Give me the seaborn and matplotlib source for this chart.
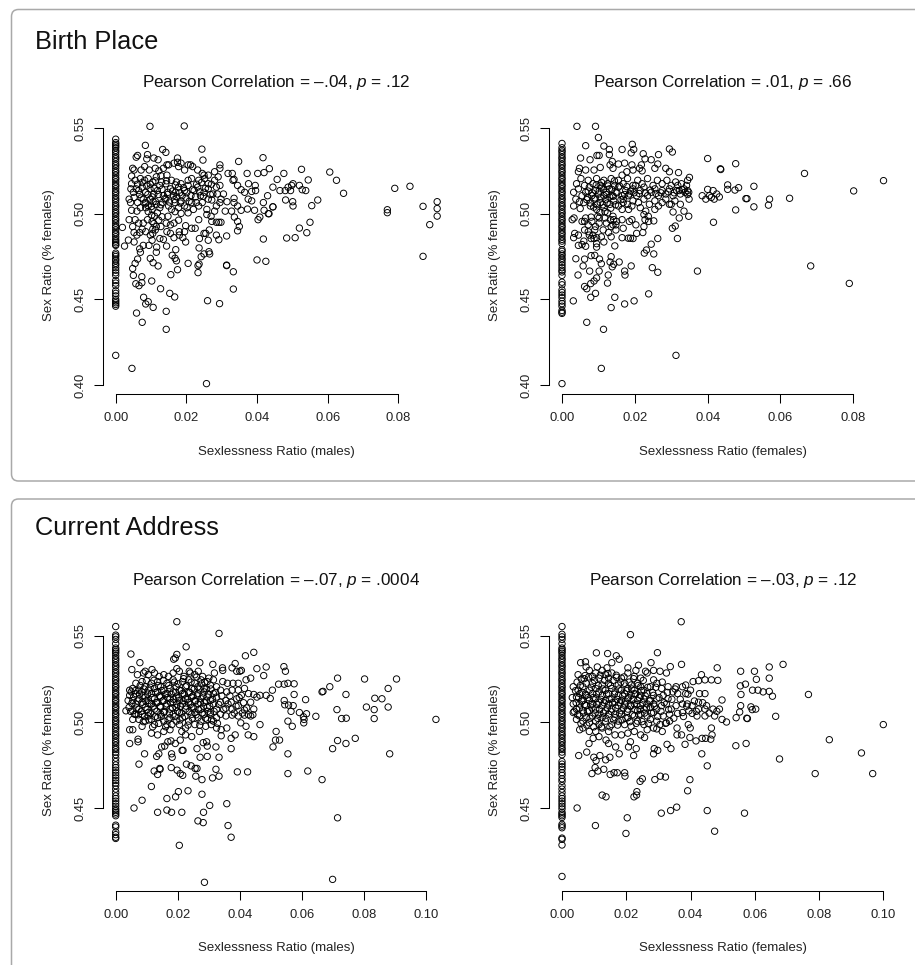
import matplotlib
matplotlib.use('Agg')
import pandas as pd
import seaborn as sns
import matplotlib.pyplot as plt
from matplotlib.patches import FancyBboxPatch

# setup
sns.set_theme(style='ticks')
plt.rcParams['font.family'] = ['Liberation Sans', 'DejaVu Sans']
plt.rcParams['mathtext.fontset'] = 'custom'
plt.rcParams['mathtext.it'] = 'Liberation Sans:italic'
plt.rcParams['mathtext.rm'] = 'Liberation Sans'

# sex ratio of the places with a sexlessness ratio of exactly zero
birth_m_zero = [.5435, .5415, .5405, .5395, .5385, .537, .536, .5345, .533, .532, .5305, .529, .528, .5265, .525,
                .524, .5225, .521, .52, .5185, .517, .516, .5145, .513, .512, .5105, .509, .508, .5065, .505,
                .504, .5025, .501, .5, .4985, .497, .496, .4945, .493, .492, .4905, .489, .488, .4865, .485,
                .484, .483, .482, .4815, .477, .476, .475, .4735, .4725, .471, .47, .4685, .467, .4655, .464,
                .461, .4595, .458, .455, .4535, .452, .45, .449, .448, .447, .446, .4173]
birth_f_zero = [.541, .5385, .537, .536, .5345, .533, .532, .5305, .529, .528, .5265, .525, .524, .5225, .521,
                .52, .5185, .517, .516, .5145, .513, .512, .5105, .509, .508, .5065, .505, .504, .5025, .501,
                .5, .4985, .497, .496, .4945, .493, .492, .4905, .489, .488, .4865, .485, .484, .4825, .479,
                .478, .4765, .4755, .474, .473, .4715, .47, .4685, .467, .466, .464, .46, .4585, .4555, .454,
                .4525, .451, .449, .4475, .446, .4435, .4425, .4418, .4008]
current_m_zero = [.5555, .5505, .5495, .548, .5455, .543, .542, .541, .54, .5385, .537, .536, .5345, .533, .532,
                  .5305, .529, .528, .5265, .525, .524, .5225, .521, .52, .5185, .517, .516, .5145, .513, .512,
                  .5105, .509, .508, .5065, .505, .504, .5025, .501, .5, .4985, .497, .496, .4945, .493, .492,
                  .4905, .489, .488, .4865, .485, .484, .4825, .481, .479, .477, .475, .4735, .472, .4705, .469,
                  .4675, .466, .4645, .463, .461, .459, .457, .4555, .454, .4525, .451, .4495, .4485, .4475,
                  .4465, .4455, .44, .439, .436, .4345, .433, .4323]
current_f_zero = [.5555, .551, .5495, .548, .5455, .543, .542, .541, .54, .5385, .537, .536, .5345, .533, .532,
                  .5305, .529, .528, .5265, .525, .524, .5225, .521, .52, .5185, .517, .516, .5145, .513, .512,
                  .5105, .509, .508, .5065, .505, .504, .5025, .501, .5, .4985, .497, .496, .4945, .493, .492,
                  .4905, .489, .488, .4865, .485, .484, .4825, .481, .477, .4755, .474, .4725, .4705, .469, .467,
                  .4655, .463, .461, .459, .457, .4555, .454, .4525, .451, .4495, .4475, .4465, .4455, .4445,
                  .4405, .4395, .4385, .4325, .4318, .4285, .4102]

# (sexlessness ratio, sex ratio) for the other places
birth_m_pts = [(.0097, .551), (.0194, .5512), (.0084, .5399), (.0133, .5375), (.0142, .5358), (.0244, .5377),
    (.0247, .5313), (.0417, .5327), (.0348, .5305), (.0435, .5263), (.0526, .5259), (.0606, .5243), (.0625, .5195),
    (.0645, .5119), (.079, .5148), (.0833, .516), (.0769, .5023), (.0769, .5006), (.087, .5043), (.091, .507),
    (.091, .503), (.091, .4986), (.0889, .4936), (.087, .4751), (.0545, .5197), (.0572, .508), (.0555, .5047),
    (.055, .495), (.052, .4916), (.0541, .4889), (.0508, .486), (.0484, .4858), (.0418, .4852), (.04, .473),
    (.0425, .4722), (.0333, .456), (.0314, .47), (.0314, .4697), (.0333, .4661), (.0294, .4475), (.026, .4492),
    (.0257, .4008), (.0046, .4097), (.0143, .4325), (.0075, .4366), (.0059, .442), (.0143, .443), (.0106, .4453),
    (.0092, .4486), (.0085, .4473), (.0079, .4512), (.0167, .4514), (.0153, .4535), (.0127, .4562), (.0102, .4607),
    (.0057, .4591), (.0066, .458), (.0074, .4597), (.0074, .4632), (.005, .464), (.0156, .4644), (.0175, .4673),
    (.012, .4695), (.0106, .4714), (.0098, .4739), (.0205, .471), (.0233, .4656), (.0233, .4697), (.0236, .4706),
    (.0242, .4749), (.025, .4765), (.0264, .4778), (.0266, .4765), (.0236, .48), (.017, .479), (.016, .4757),
    (.0168, .474), (.0172, .4725), (.0144, .4811), (.0025, .4811), (.0019, .492), (.0036, .4846), (.0055, .471),
    (.0048, .468), (.0062, .4735), (.007, .4775), (.0052, .4835), (.0068, .4795), (.0078, .4815), (.0094, .4815),
    (.0115, .4775), (.0116, .4805), (.0103, .4845), (.0125, .4855), (.0135, .485), (.0145, .4895), (.0155, .4885),
    (.0165, .486), (.018, .4875), (.019, .486), (.0198, .4835), (.0237, .4855), (.0262, .4845), (.0292, .4848),
    (.0285, .4875), (.0314, .487), (.0345, .49), (.035, .4925), (.0345, .4955), (.0336, .498), (.0373, .5027),
    (.0393, .502), (.0403, .4965), (.0408, .498), (.0432, .5), (.0434, .5), (.0445, .504), (.0418, .5065),
    (.043, .5105), (.0396, .5135), (.0375, .5085), (.0385, .5075), (.0365, .5125), (.0355, .514), (.0385, .513),
    (.0345, .5165), (.0335, .52), (.0318, .5235), (.033, .5235), (.0332, .5195), (.0372, .5235), (.0376, .5175),
    (.0395, .5165), (.0402, .5235), (.042, .524), (.0457, .52), (.0476, .5235), (.0445, .5155), (.0465, .5135),
    (.048, .5135), (.0495, .5135), (.0488, .5155), (.0498, .5165), (.052, .5165), (.0528, .514), (.0538, .5135),
    (.0502, .5175), (.0481, .508), (.0501, .507), (.0502, .5045), (.0445, .504), (.042, .502), (.0345, .5045),
    (.0355, .502), (.0328, .5015), (.031, .5015), (.0295, .5065), (.0315, .507), (.0335, .509), (.0335, .5065),
    (.0285, .5045), (.028, .5015), (.027, .4985), (.0258, .4995), (.0272, .4955), (.0285, .495), (.0292, .495),
    (.0298, .495), (.0265, .4905), (.0255, .4885), (.025, .4885), (.0235, .4965), (.0225, .4915), (.0215, .4915),
    (.0198, .493), (.0195, .4895), (.018, .4895), (.0165, .4945), (.0155, .4935), (.0143, .4945), (.0128, .4925),
    (.0105, .491), (.0115, .4925), (.0098, .4875), (.0085, .4895), (.0075, .491), (.0068, .489), (.006, .4875),
    (.0052, .489), (.0048, .4925), (.0038, .4965), (.0055, .4965), (.0065, .4945), (.0078, .4945), (.009, .4965),
    (.0103, .4955), (.011, .4985), (.0118, .5005), (.0103, .5025), (.0085, .5035), (.007, .5035), (.006, .5015),
    (.0045, .502), (.0038, .5085), (.0042, .5065), (.0052, .5095), (.0062, .5065), (.0078, .5085), (.0085, .5065),
    (.0092, .5045), (.0098, .5085), (.0106, .507), (.0115, .5055), (.0125, .5035), (.0132, .5065), (.0142, .5085),
    (.015, .5045), (.0158, .5025), (.0168, .5065), (.0178, .5035), (.0185, .5075), (.0195, .5045), (.0205, .5005),
    (.0215, .5065), (.022, .5025), (.0235, .5045), (.0245, .5065), (.0258, .5025), (.0262, .5085), (.0272, .508),
    (.0288, .5115), (.0298, .5085), (.0305, .5115), (.0043, .5145), (.005, .5125), (.0065, .5135), (.0075, .5155),
    (.0085, .5125), (.0097, .5145), (.0108, .5115), (.0118, .5135), (.0125, .5165), (.0135, .5105), (.0148, .5125),
    (.0155, .5145), (.0163, .5105), (.017, .5125), (.0178, .5155), (.0188, .5105), (.0195, .5135), (.0205, .5165),
    (.0213, .5105), (.0222, .5135), (.0232, .5155), (.024, .5105), (.025, .5125), (.0262, .5145), (.0275, .5115),
    (.0285, .5155), (.0295, .5165), (.0045, .5175), (.0055, .5195), (.007, .5205), (.0082, .5195), (.0092, .5205),
    (.0105, .5185), (.0115, .5215), (.013, .5185), (.0142, .5175), (.0158, .5195), (.0172, .5185), (.0185, .5175),
    (.0205, .5195), (.0215, .5205), (.0235, .5195), (.0252, .5205), (.0262, .5175), (.028, .5195), (.029, .5215),
    (.0045, .522), (.0048, .5265), (.0052, .5255), (.0072, .5255), (.0082, .5275), (.0095, .5255), (.0112, .5265),
    (.0122, .525), (.0145, .5225), (.015, .5285), (.0165, .5295), (.0178, .5275), (.0175, .5325), (.0185, .5295),
    (.0195, .5255), (.0212, .5285), (.0218, .5275), (.0232, .5255), (.0245, .5235), (.025, .5225), (.0262, .5225),
    (.028, .5245), (.0295, .5265), (.0295, .5285), (.0058, .533), (.0062, .534), (.009, .5345), (.0088, .532),
    (.0108, .5325), (.012, .5315), (.0145, .5285), (.0135, .5265), (.0205, .5285), (.0175, .53)]
birth_f_pts = [(.0041, .551), (.0092, .551), (.01, .5445), (.0065, .5397), (.0115, .5395), (.013, .5375), (.0165, .5375),
    (.0193, .5405), (.019, .5355), (.0197, .5375), (.0223, .535), (.0265, .5345), (.0295, .5378), (.0303, .536),
    (.0051, .5325), (.0077, .5315), (.0096, .534), (.0102, .534), (.013, .5345), (.0138, .5305), (.0132, .5285),
    (.0245, .5315), (.0263, .529), (.0155, .529), (.0172, .5295), (.0192, .5285), (.0218, .5285), (.0228, .532),
    (.0285, .5265), (.0255, .5265), (.0295, .5245), (.032, .524), (.0048, .5265), (.0045, .5245), (.0065, .5255),
    (.0088, .5255), (.0105, .527), (.014, .5265), (.0165, .5225), (.0178, .5245), (.0195, .5255), (.0213, .5265),
    (.022, .525), (.04, .5322), (.0435, .5262), (.0436, .5258), (.0477, .5292), (.0666, .5235), (.0883, .5193),
    (.0801, .5133), (.035, .5212), (.0345, .5195), (.0342, .5165), (.0345, .5135), (.033, .514), (.0318, .5165),
    (.0349, .5085), (.0325, .5055), (.0335, .5015), (.0348, .4985), (.0322, .4975), (.0305, .501), (.03, .5055),
    (.0311, .4928), (.0303, .4915), (.0317, .4855), (.0395, .5085), (.0385, .5105), (.04, .5142), (.0405, .5105),
    (.041, .5095), (.0415, .5135), (.0418, .5085), (.0425, .5115), (.0432, .5098), (.0455, .5168), (.0455, .5142),
    (.0475, .5138), (.0485, .5152), (.0527, .516), (.0505, .5088), (.0508, .5088), (.057, .5085), (.0567, .505),
    (.0527, .504), (.0477, .5022), (.0625, .509), (.0416, .495), (.0372, .4665), (.0683, .4695), (.0789, .4593),
    (.0313, .4173), (.0108, .4097), (.0114, .4325), (.0068, .4366), (.0135, .4452), (.0172, .4473), (.0198, .4491),
    (.0238, .4532), (.0145, .4512), (.0031, .4491), (.0079, .4512), (.0092, .4535), (.0062, .4575), (.0068, .4562),
    (.0079, .4592), (.0088, .4607), (.0095, .4625), (.0125, .4595), (.0127, .4642), (.0102, .4665), (.0076, .4665),
    (.0044, .4642), (.0058, .4695), (.0038, .4737), (.0062, .4735), (.008, .4755), (.009, .4757), (.0103, .4735),
    (.0108, .4708), (.0132, .4718), (.0135, .4749), (.0142, .4705), (.0138, .469), (.0157, .4718), (.0172, .4665),
    (.0173, .4642), (.019, .4695), (.0248, .4685), (.0263, .4658), (.0252, .4765), (.0226, .477), (.0232, .4788),
    (.0245, .4822), (.0263, .4855), (.0182, .4857), (.0188, .4857), (.0195, .4855), (.0205, .4885), (.0222, .489),
    (.0165, .486), (.0145, .4812), (.0115, .4835), (.0095, .4805), (.0095, .4825), (.0065, .481), (.0055, .482),
    (.0045, .4815), (.0032, .486), (.0035, .4885), (.0045, .4875), (.006, .484), (.008, .4855), (.0095, .486),
    (.0108, .4865), (.0135, .4865), (.0128, .489), (.0148, .4905), (.0168, .4915), (.0085, .4875), (.0072, .4895),
    (.0062, .4905), (.009, .4905), (.0113, .4905), (.014, .4935), (.015, .4955), (.0133, .4965), (.0165, .4965),
    (.0192, .4965), (.0203, .4935), (.0185, .4955), (.0225, .4925), (.0228, .4965), (.0238, .4955), (.0252, .4958),
    (.0225, .4995), (.023, .5015), (.0237, .4985), (.0255, .5025), (.0028, .4965), (.0033, .4975), (.0032, .5045),
    (.0038, .5085), (.005, .503), (.0055, .4955), (.0065, .4975), (.008, .498), (.0098, .4985), (.0102, .4945),
    (.0118, .4975), (.0125, .5005), (.014, .4985), (.0165, .5025), (.0183, .5025), (.0192, .5045), (.0215, .5035),
    (.0048, .507), (.006, .5065), (.007, .5095), (.0078, .5045), (.0088, .5085), (.0095, .5025), (.0105, .5065),
    (.0115, .5035), (.012, .5085), (.0132, .5055), (.0142, .5075), (.0155, .5045), (.0168, .5085), (.018, .5055),
    (.0195, .5075), (.021, .5065), (.0225, .5085), (.024, .5055), (.0255, .5075), (.0265, .5045), (.0275, .5065),
    (.0285, .5085), (.0295, .5055), (.031, .5075), (.0032, .5125), (.0045, .5145), (.0055, .5105), (.0065, .5125),
    (.0075, .5155), (.0082, .5105), (.0092, .5135), (.01, .5115), (.0108, .5155), (.0115, .5105), (.0122, .5125),
    (.013, .5145), (.0138, .5105), (.0148, .5125), (.0155, .5155), (.0165, .5105), (.0175, .5135), (.0185, .5115),
    (.0195, .5145), (.0205, .5105), (.0215, .5135), (.0225, .5155), (.0235, .5105), (.0245, .5125), (.0255, .5145),
    (.0265, .5105), (.0275, .5135), (.0285, .5115), (.0295, .5145), (.0305, .5105), (.0315, .5135), (.0325, .5115),
    (.0335, .5145), (.0348, .5125), (.004, .5175), (.0052, .5205), (.0062, .5165), (.0072, .5195), (.0085, .5175),
    (.0095, .5205), (.0105, .5165), (.0115, .5195), (.0125, .5175), (.0135, .5205), (.0145, .5165), (.0155, .5195),
    (.0168, .5175), (.018, .5205), (.0195, .5165), (.0208, .5195), (.022, .5175), (.0235, .5205), (.025, .5165),
    (.0262, .5195), (.0275, .5175), (.0288, .5195), (.03, .5165), (.0312, .5185), (.0328, .5175)]
current_m_pts = [(.0197, .5583), (.0333, .5515), (.0227, .5437), (.0049, .5395), (.0197, .5393), (.0192, .5372),
    (.0187, .5365), (.0418, .5385), (.0445, .5405), (.0078, .5345), (.0235, .5345), (.0271, .5345), (.0313, .5335),
    (.0344, .5315), (.0385, .534), (.0345, .53), (.0375, .5315), (.039, .5295), (.04, .5295), (.0405, .53),
    (.0455, .531), (.0485, .532), (.0542, .5322), (.0547, .5295), (.0477, .527), (.0318, .5285), (.0266, .5295),
    (.0237, .5295), (.0197, .531), (.0052, .5305), (.0095, .5295), (.0117, .5305), (.0715, .5255), (.0802, .525),
    (.0905, .525), (.0665, .5175), (.0668, .5178), (.069, .5205), (.0742, .516), (.0878, .5195), (.0835, .5138),
    (.0858, .5135), (.0878, .5087), (.0808, .5087), (.0833, .5072), (.0713, .5072), (.0728, .502), (.0743, .5022),
    (.0833, .502), (.1032, .5015), (.0612, .513), (.0575, .516), (.0575, .5222), (.0555, .5225), (.0543, .522),
    (.0525, .522), (.0505, .5185), (.0498, .5137), (.0485, .5155), (.0543, .5125), (.0545, .51), (.0557, .5098),
    (.0572, .5095), (.0565, .5062), (.0592, .5055), (.0615, .5048), (.0605, .503), (.0607, .5015), (.0606, .4995),
    (.0645, .5033), (.0555, .5005), (.0569, .4975), (.0465, .4985), (.0517, .4945), (.0515, .4895), (.0528, .4895),
    (.0507, .4855), (.0555, .4815), (.0555, .47), (.0619, .4715), (.0665, .4665), (.0699, .4845), (.0715, .4892),
    (.0742, .4875), (.0772, .4905), (.0883, .4815), (.0715, .4443), (.0699, .4085), (.0286, .4068), (.0205, .4283),
    (.0372, .433), (.0362, .4398), (.0282, .4415), (.0265, .4425), (.0283, .4475), (.0213, .4475), (.018, .4475),
    (.0165, .4488), (.0135, .4475), (.0059, .45), (.0085, .4545), (.0165, .4555), (.0193, .4565), (.0202, .4595),
    (.0233, .46), (.0278, .458), (.0303, .4515), (.0358, .4525), (.0115, .4625), (.0278, .4665), (.0312, .4675),
    (.0333, .4685), (.0323, .4725), (.0392, .471), (.0425, .471), (.0135, .4695), (.0142, .473), (.0124, .4715),
    (.0143, .4725), (.0179, .4735), (.0198, .472), (.0208, .47), (.0216, .469), (.0228, .4755), (.0243, .4745),
    (.0256, .473), (.0262, .473), (.0258, .4685), (.0075, .4755), (.0093, .4815), (.0132, .48), (.0139, .4815),
    (.0182, .4795), (.018, .4815), (.0214, .4835), (.0217, .4835), (.0262, .4845), (.0272, .4795), (.0295, .48),
    (.0333, .4795), (.0323, .4855), (.0372, .4845), (.0045, .4875), (.0072, .49), (.0072, .4885), (.0148, .4855),
    (.0158, .486), (.0168, .4885), (.0178, .489), (.0192, .4875), (.0208, .4895), (.0282, .488), (.0293, .4885),
    (.0295, .486), (.034, .492), (.0372, .4905), (.0385, .4925), (.0427, .4925), (.0445, .4915), (.0045, .4955),
    (.0055, .4955), (.0085, .4975), (.0115, .4935), (.0135, .4925), (.0155, .4945), (.0175, .4955), (.0213, .4945),
    (.0225, .4925), (.0245, .4915), (.027, .4945), (.029, .4975), (.0308, .4985), (.0325, .4965), (.034, .4955),
    (.0358, .4965), (.0403, .4995), (.042, .4975), (.0033, .5065), (.004, .5125), (.0045, .5185), (.005, .5175),
    (.0055, .5015), (.0065, .5045), (.0075, .5015), (.0085, .5045), (.0095, .5005), (.0105, .5035), (.0115, .5015),
    (.0125, .4985), (.0135, .5025), (.0145, .5045), (.0155, .5005), (.0165, .4985), (.0175, .5025), (.0185, .5045),
    (.0195, .5005), (.0205, .4985), (.0215, .5025), (.0225, .4965), (.0235, .5005), (.0245, .5045), (.0255, .4985),
    (.0265, .5025), (.0275, .5005), (.0285, .5045), (.0295, .5015), (.0305, .5045), (.0315, .5005), (.0325, .5025),
    (.0338, .5045), (.0355, .5035), (.0375, .504), (.0395, .5035), (.0415, .504), (.0435, .5035), (.0355, .508),
    (.0375, .5075), (.0395, .5095), (.0415, .507), (.0435, .5115), (.0445, .5075), (.0455, .5145), (.0043, .5085),
    (.0055, .5065), (.0065, .5105), (.0075, .5075), (.0085, .5115), (.0095, .5085), (.0105, .5055), (.0115, .5105),
    (.0125, .5075), (.0135, .5115), (.0145, .5085), (.0155, .5055), (.0165, .5105), (.0175, .5075), (.0185, .5115),
    (.0195, .5085), (.0205, .5055), (.0215, .5105), (.0225, .5075), (.0235, .5115), (.0245, .5085), (.0255, .5055),
    (.0265, .5105), (.0275, .5075), (.0285, .5115), (.0295, .5085), (.0305, .5055), (.0315, .5105), (.0325, .5075),
    (.0338, .5115), (.0355, .5125), (.0372, .5115), (.039, .5135), (.0405, .5155), (.0428, .5165), (.0445, .516),
    (.0465, .5155), (.0045, .5155), (.0055, .5125), (.0065, .5165), (.0075, .5135), (.0085, .5175), (.0095, .5145),
    (.0105, .5125), (.0115, .5165), (.0125, .5135), (.0135, .5175), (.0145, .5145), (.0155, .5125), (.0165, .5165),
    (.0175, .5135), (.0185, .5175), (.0195, .5145), (.0205, .5125), (.0215, .5165), (.0225, .5135), (.0235, .5175),
    (.0245, .5145), (.0255, .5125), (.0265, .5165), (.0275, .5135), (.0285, .5175), (.0295, .5145), (.0305, .5125),
    (.0315, .5165), (.0325, .5145), (.0338, .5185), (.0358, .5175), (.0375, .5185), (.0395, .5185), (.0415, .5195),
    (.0055, .5195), (.0065, .5225), (.0075, .5185), (.0085, .5235), (.0095, .5205), (.0105, .5185), (.0115, .5225),
    (.0125, .5195), (.0135, .5235), (.0145, .5205), (.0155, .5185), (.0165, .5225), (.0175, .5195), (.0185, .5245),
    (.0195, .5205), (.0205, .5185), (.0215, .5235), (.0225, .5205), (.0235, .5245), (.0245, .5195), (.0255, .5225),
    (.0265, .5205), (.0275, .5245), (.0285, .5195), (.0295, .5235), (.0305, .5215), (.0315, .5245), (.0325, .5205),
    (.0345, .5235), (.036, .5225), (.0378, .5225), (.0395, .5225), (.042, .5245), (.0435, .5255), (.007, .5275),
    (.009, .5285), (.0105, .5275), (.0125, .5285), (.014, .5265), (.0155, .5275), (.017, .5265), (.0185, .5285),
    (.0205, .5295), (.022, .5265), (.024, .5285), (.0255, .5275), (.028, .5265), (.03, .5255)]
current_f_pts = [(.0371, .5583), (.0213, .5508), (.0107, .5402), (.0297, .5403), (.0142, .5398), (.0169, .5385),
    (.0178, .5365), (.0277, .5345), (.0058, .5345), (.0073, .535), (.0155, .5345), (.0238, .533), (.0372, .5335),
    (.0337, .5322), (.0483, .5315), (.0556, .5295), (.0599, .5295), (.0645, .532), (.0688, .5335), (.0645, .5255),
    (.0605, .5248), (.0434, .5275), (.0445, .5245), (.0465, .5245), (.0485, .5242), (.0425, .524), (.0408, .5235),
    (.0571, .522), (.0555, .521), (.0593, .5185), (.061, .5185), (.0626, .5175), (.0645, .5178), (.0655, .515),
    (.0767, .516), (.0557, .516), (.0498, .5128), (.0556, .5095), (.0588, .5088), (.0592, .5072), (.0603, .5075),
    (.0553, .5058), (.0665, .5033), (.0577, .502), (.0575, .5022), (.0542, .5025), (.0512, .5), (.0498, .5015),
    (.1, .4985), (.0832, .4897), (.0932, .482), (.0967, .47), (.0788, .47), (.0677, .4785), (.0573, .4875),
    (.0541, .4862), (.0467, .4925), (.0465, .4965), (.0452, .4745), (.0435, .4815), (.0398, .4665), (.0391, .46),
    (.0452, .4485), (.0475, .4365), (.0568, .447), (.0357, .4505), (.0338, .4485), (.0309, .447), (.0203, .4443),
    (.0199, .4352), (.0104, .4398), (.0047, .45), (.0224, .4565), (.0232, .4575), (.0233, .4595), (.0137, .4565),
    (.0125, .4575), (.0243, .4655), (.025, .467), (.0289, .4665), (.0306, .4685), (.0322, .468), (.0172, .4705),
    (.0195, .4705), (.0196, .4685), (.0093, .47), (.0103, .4735), (.0112, .4715), (.013, .4725), (.015, .4695),
    (.0162, .4705), (.0106, .4775), (.0052, .4805), (.0077, .4825), (.0099, .4795), (.0118, .4805), (.0136, .478),
    (.0149, .4795), (.0178, .4815), (.0223, .4805), (.0285, .4815), (.0298, .4835), (.0287, .4845), (.0339, .4845),
    (.0327, .487), (.0383, .487), (.0417, .489), (.0398, .491), (.0436, .4905), (.0447, .4905), (.0463, .49),
    (.0084, .4875), (.0097, .4905), (.0115, .4915), (.0137, .4895), (.0145, .4875), (.0167, .4855), (.0207, .4855),
    (.0213, .4885), (.0231, .4845), (.0257, .491), (.0295, .496), (.0312, .4945), (.0358, .4925), (.0358, .4965),
    (.0372, .4925), (.0393, .4985), (.0399, .4965), (.0055, .4955), (.0065, .4965), (.0085, .4945), (.0105, .4945),
    (.0125, .4965), (.0145, .4945), (.0165, .4925), (.0185, .4925), (.0205, .4935), (.0225, .4945), (.0245, .4925),
    (.0265, .4955), (.0285, .4965), (.0305, .4985), (.0325, .4995), (.0335, .5005), (.0035, .5055), (.0045, .5015),
    (.0055, .5035), (.0065, .5005), (.0075, .5025), (.0085, .4995), (.0095, .5035), (.0105, .5005), (.0115, .4985),
    (.0125, .5025), (.0135, .5005), (.0145, .5045), (.0155, .4985), (.0165, .5025), (.0175, .5005), (.0185, .5045),
    (.0195, .4985), (.0205, .5025), (.0215, .4975), (.0225, .5035), (.0235, .5005), (.0245, .5045), (.0255, .4985),
    (.0265, .5035), (.0275, .5015), (.0285, .5055), (.0295, .5005), (.0315, .5035), (.0335, .5045), (.036, .505),
    (.0405, .505), (.042, .5035), (.0445, .5035), (.0475, .5035), (.049, .5075), (.047, .5075), (.045, .5095),
    (.0425, .5075), (.0395, .5065), (.0375, .5055), (.0035, .5105), (.0045, .5075), (.0055, .5105), (.0065, .5065),
    (.0075, .5095), (.0085, .5065), (.0095, .5105), (.0105, .5075), (.0115, .5045), (.0125, .5095), (.0135, .5065),
    (.0145, .5105), (.0155, .5075), (.0165, .5045), (.0175, .5095), (.0185, .5065), (.0195, .5105), (.0205, .5075),
    (.0215, .5095), (.0225, .5105), (.0235, .5065), (.0245, .5095), (.0255, .5075), (.0265, .5105), (.0275, .5085),
    (.0285, .5105), (.0295, .5075), (.031, .5095), (.0325, .5105), (.034, .5075), (.0355, .5095), (.0375, .5105),
    (.039, .5105), (.0405, .5095), (.0425, .5115), (.0445, .5075), (.0045, .5145), (.0055, .5165), (.0065, .5125),
    (.0075, .5155), (.0085, .5125), (.0095, .5165), (.0105, .5135), (.0115, .5115), (.0125, .5155), (.0135, .5125),
    (.0145, .5165), (.0155, .5135), (.0165, .5115), (.0175, .5155), (.0185, .5125), (.0195, .5165), (.0205, .5135),
    (.0215, .5155), (.0225, .5165), (.0235, .5125), (.0245, .5155), (.0255, .5135), (.0265, .5165), (.0275, .5125),
    (.0285, .5155), (.0295, .5135), (.0315, .5155), (.033, .5135), (.0345, .5175), (.036, .5165), (.0385, .5165),
    (.04, .5185), (.0428, .5165), (.0445, .5165), (.0035, .5205), (.005, .5185), (.0065, .5205), (.0075, .5225),
    (.0085, .5185), (.0095, .5225), (.0105, .5195), (.0115, .5175), (.0125, .5215), (.0135, .5185), (.0145, .5225),
    (.0155, .5195), (.0165, .5175), (.0175, .5215), (.0185, .5185), (.0195, .5225), (.0205, .5195), (.0215, .5215),
    (.0225, .5185), (.0235, .5225), (.0245, .5205), (.0255, .5185), (.0275, .5205), (.0295, .5225), (.031, .5195),
    (.033, .5205), (.0355, .5205), (.0375, .5205), (.0385, .5215), (.005, .5275), (.006, .525), (.0072, .527),
    (.0085, .53), (.0095, .5265), (.0105, .5285), (.0115, .5255), (.0125, .53), (.0135, .5275), (.0145, .5255),
    (.0155, .5285), (.017, .526), (.0185, .5255), (.0205, .5285), (.0225, .5265), (.0245, .5255), (.0265, .5285),
    (.0285, .5245), (.0305, .5295), (.0325, .5285), (.0075, .532), (.011, .532), (.014, .5315), (.0205, .5315),
    (.023, .53), (.026, .5295), (.0285, .53)]

# the crowded middle of each cloud
birth_m_dense = [(.0072, .5092), (.0083, .5058), (.0091, .5112), (.0101, .5042), (.0103, .5098), (.0109, .5148),
    (.0112, .5072), (.0121, .5112), (.0128, .5052), (.0131, .5142), (.0139, .5088), (.0144, .5192), (.0147, .5112),
    (.0152, .5068), (.0161, .5132), (.0166, .5082), (.0169, .5168), (.0173, .5098), (.0181, .5122), (.0183, .5062),
    (.0192, .5152), (.0199, .5092), (.0201, .5122), (.0208, .5072), (.0218, .5142), (.0226, .5098), (.0229, .5172),
    (.0238, .5128), (.0243, .5182), (.0254, .5148), (.0268, .5112), (.0271, .5172), (.0102, .4992), (.0092, .5012),
    (.0122, .4962), (.0108, .4942), (.0131, .4982), (.0098, .5172), (.0112, .5192), (.0088, .5162), (.0128, .5222),
    (.0075, .5182), (.0062, .5172), (.0068, .5112), (.0058, .5145), (.0105, .4885), (.0112, .4905), (.0148, .4985),
    (.0168, .5012), (.0185, .5002), (.0178, .4962), (.0202, .5035), (.0228, .5065), (.0248, .5102)]
birth_f_dense = [(.0068, .5082), (.0072, .5132), (.0078, .5062), (.0083, .5122), (.0087, .5038), (.0091, .5092),
    (.0094, .5168), (.0097, .5052), (.0102, .5132), (.0104, .5008), (.0107, .5092), (.0109, .5182), (.0112, .5052),
    (.0114, .5142), (.0118, .5012), (.0121, .5112), (.0124, .5062), (.0127, .5162), (.0131, .5098), (.0134, .5032),
    (.0137, .5142), (.0141, .5102), (.0144, .5192), (.0147, .5052), (.0151, .5122), (.0158, .5162), (.0162, .5082),
    (.0172, .5112), (.0178, .5158), (.0188, .5132), (.0198, .5122), (.0212, .5118), (.0228, .5122), (.0242, .5138),
    (.0258, .5118), (.0272, .5122), (.0292, .5128), (.0308, .5122), (.0322, .5135), (.0338, .5125), (.0345, .5112),
    (.0082, .4955), (.0092, .4925), (.0102, .4975), (.0122, .4945), (.0135, .4925), (.0142, .4965), (.0148, .4935),
    (.0072, .4935), (.0062, .4955), (.0075, .4875), (.0088, .4855), (.0168, .5065), (.0182, .5105), (.0202, .5165)]
current_m_dense = [(.0048, .5062), (.0052, .5108), (.0058, .5148), (.0061, .5045), (.0063, .5182), (.0068, .5082),
    (.0071, .5122), (.0073, .5042), (.0077, .5162), (.0079, .5212), (.0082, .5062), (.0087, .5102), (.0088, .5152),
    (.0089, .5002), (.0091, .5192), (.0093, .5032), (.0097, .5122), (.0099, .5242), (.0101, .5072), (.0103, .5162),
    (.0107, .5012), (.0109, .5108), (.0111, .5202), (.0113, .5052), (.0117, .5142), (.0119, .4972), (.0121, .5092),
    (.0123, .5242), (.0127, .5032), (.0129, .5172), (.0131, .5112), (.0133, .5062), (.0137, .5212), (.0139, .4992),
    (.0141, .5152), (.0143, .5092), (.0147, .5032), (.0149, .5182), (.0151, .5122), (.0153, .5242), (.0157, .5062),
    (.0159, .5162), (.0161, .4972), (.0163, .5092), (.0167, .5142), (.0169, .5012), (.0171, .5212), (.0173, .5052),
    (.0177, .5112), (.0179, .5162), (.0181, .4985), (.0183, .5082), (.0187, .5132), (.0189, .5232), (.0191, .5032),
    (.0193, .5172), (.0197, .5102), (.0199, .5062), (.0201, .5222), (.0203, .5142), (.0207, .5012), (.0209, .5092),
    (.0211, .5182), (.0213, .5052), (.0217, .5122), (.0219, .5252), (.0221, .5162), (.0223, .5032), (.0227, .5092),
    (.0229, .5212), (.0231, .5132), (.0233, .4982), (.0237, .5062), (.0239, .5172), (.0241, .5102), (.0243, .5232),
    (.0247, .5022), (.0249, .5152), (.0251, .5082), (.0253, .5192), (.0257, .5122), (.0259, .5042), (.0261, .5262),
    (.0263, .5152), (.0267, .5072), (.0269, .5192), (.0271, .4982), (.0273, .5112), (.0277, .5222), (.0279, .5052),
    (.0281, .5152), (.0283, .5092), (.0287, .5232), (.0289, .5022), (.0291, .5122), (.0293, .5192), (.0297, .5062),
    (.0299, .5162), (.0303, .5092), (.0307, .5192), (.0309, .5012), (.0312, .5132), (.0317, .5062), (.0322, .5172),
    (.0328, .4992), (.0332, .5102), (.0342, .5152), (.0348, .5072), (.0362, .5105), (.0368, .5152), (.0382, .5052),
    (.0388, .5092), (.0398, .5142), (.0408, .5052), (.0412, .5112), (.0422, .5082), (.0428, .5042), (.0442, .5042)]
current_f_dense = [(.0032, .5142), (.0038, .5062), (.0042, .5182), (.0044, .5112), (.0047, .5232), (.0049, .5042),
    (.0052, .5142), (.0054, .5082), (.0057, .5212), (.0059, .4992), (.0061, .5122), (.0063, .5172), (.0067, .5052),
    (.0069, .5252), (.0071, .5102), (.0073, .5162), (.0077, .4982), (.0079, .5062), (.0081, .5142), (.0083, .5262),
    (.0087, .5022), (.0089, .5102), (.0091, .5202), (.0093, .5082), (.0097, .5142), (.0099, .4972), (.0101, .5242),
    (.0103, .5052), (.0107, .5162), (.0109, .5102), (.0111, .5022), (.0113, .5212), (.0117, .5072), (.0119, .5272),
    (.0121, .5132), (.0123, .4972), (.0127, .5192), (.0129, .5052), (.0131, .5112), (.0133, .5242), (.0137, .5022),
    (.0139, .5162), (.0141, .5082), (.0143, .5282), (.0147, .5132), (.0149, .4972), (.0151, .5212), (.0153, .5062),
    (.0157, .5112), (.0159, .5242), (.0161, .5012), (.0163, .5162), (.0167, .5082), (.0169, .5272), (.0171, .5132),
    (.0173, .4982), (.0177, .5192), (.0179, .5052), (.0181, .5112), (.0183, .5232), (.0187, .5012), (.0189, .5152),
    (.0191, .5082), (.0193, .5262), (.0197, .5122), (.0199, .5022), (.0201, .5182), (.0203, .5062), (.0207, .5142),
    (.0209, .5232), (.0211, .5002), (.0213, .5092), (.0217, .5192), (.0219, .5042), (.0221, .5132), (.0223, .5252),
    (.0227, .5072), (.0229, .5162), (.0231, .4992), (.0233, .5102), (.0237, .5212), (.0239, .5042), (.0241, .5142),
    (.0243, .5072), (.0247, .5182), (.0249, .5002), (.0251, .5112), (.0253, .5242), (.0257, .5052), (.0259, .5152),
    (.0263, .5082), (.0267, .5202), (.0269, .4992), (.0272, .5122), (.0278, .5052), (.0282, .5172), (.0288, .5092),
    (.0292, .5202), (.0298, .5032), (.0302, .5142), (.0308, .5062), (.0312, .5232), (.0318, .5112), (.0322, .4992),
    (.0328, .5172), (.0332, .5072), (.0342, .5132), (.0348, .5022), (.0352, .5192), (.0368, .5132), (.0378, .5032),
    (.0388, .5092), (.0392, .5162), (.0412, .5122), (.0418, .5062), (.0438, .5112), (.0458, .5052), (.0482, .5062)]

panel_frames = {}
for name, zero, pts, dense in [('birth_m', birth_m_zero, birth_m_pts, birth_m_dense),
                               ('birth_f', birth_f_zero, birth_f_pts, birth_f_dense),
                               ('current_m', current_m_zero, current_m_pts, current_m_dense),
                               ('current_f', current_f_zero, current_f_pts, current_f_dense)]:
    panel_frames[name] = pd.DataFrame({'sexless': [0.0] * len(zero) + [p[0] for p in pts + dense],
                                       'ratio': zero + [p[1] for p in pts + dense]})

titles = ['Pearson Correlation = \u2013.04, $\\mathit{p}$ = .12', 'Pearson Correlation = .01, $\\mathit{p}$ = .66',
          'Pearson Correlation = \u2013.07, $\\mathit{p}$ = .0004', 'Pearson Correlation = \u2013.03, $\\mathit{p}$ = .12']
xlabels = ['Sexlessness Ratio (males)', 'Sexlessness Ratio (females)'] * 2
xticks_top = [0.0, 0.02, 0.04, 0.06, 0.08]
xticks_bottom = [0.0, 0.02, 0.04, 0.06, 0.08, 0.10]
yticks_top = [0.40, 0.45, 0.50, 0.55]
yticks_bottom = [0.45, 0.50, 0.55]

# layout in pixels: axis line x, x=0 px, x=last tick px, right edge, axis line y, y=0.50 px, px per unit y, top edge
W, H = 915, 965
layout = [('birth_m', 103.3, 115.7, 398.3, 450, 394, 213.7, 1713, 118, xticks_top, yticks_top),
          ('birth_f', 549.3, 562, 853.3, 900, 394, 213.7, 1713, 118, xticks_top, yticks_top),
          ('current_m', 103.3, 115.7, 426, 450, 890.7, 722, 1720, 618, xticks_bottom, yticks_bottom),
          ('current_f', 549.3, 562, 883.3, 900, 890.7, 722, 1720, 618, xticks_bottom, yticks_bottom)]

fig = plt.figure(figsize=(W / 100, H / 100), dpi=100, facecolor='white')

# the two cards
for top, bottom in [(9.5, 481), (499, 1000)]:
    card = FancyBboxPatch((11.5, H - bottom), 1000, bottom - top, boxstyle='round,pad=0,rounding_size=7',
                          transform=None, fc='white', ec='#a9a9a9', lw=1.1, zorder=-1)
    fig.add_artist(card)
fig.text(35 / W, 1 - 42 / H, 'Birth Place', fontsize=18.3, ha='left', va='center', color='#111111')
fig.text(35 / W, 1 - 528 / H, 'Current Address', fontsize=18.3, ha='left', va='center', color='#111111')

for i, (name, x_axis, x0, x_last, right, y_axis, y50, y_scale, top, xt, yt) in enumerate(layout):
    ax = fig.add_axes([x_axis / W, 1 - y_axis / H, (right - x_axis) / W, (y_axis - top) / H], facecolor='none')
    sns.scatterplot(x='sexless', y='ratio', data=panel_frames[name], ax=ax, s=21, marker='o',
                    facecolor='none', edgecolor='black', linewidth=0.68, clip_on=False)
    x_scale = (x_last - x0) / xt[-1]
    ax.set_xlim((x_axis - x0) / x_scale, (right - x0) / x_scale)
    ax.set_ylim(0.5 - (y_axis - y50) / y_scale, 0.5 + (y50 - top) / y_scale)
    sns.despine(ax=ax)
    ax.spines['left'].set_bounds(yt[0], yt[-1])
    ax.spines['bottom'].set_bounds(xt[0], xt[-1])
    for side in ['left', 'bottom']:
        ax.spines[side].set_linewidth(0.75)
        ax.spines[side].set_color('black')
    ax.set_xticks(xt, ['%.2f' % v for v in xt])
    ax.set_yticks(yt, ['%.2f' % v for v in yt])
    ax.tick_params(axis='both', length=6.2, width=0.75, color='black', labelsize=9.4, labelcolor='#222222', pad=7)
    ax.tick_params(axis='y', pad=6, labelrotation=90)
    for lab in ax.get_yticklabels():
        lab.set_va('center')
    ax.set_xlabel('')
    ax.set_ylabel('')

    col_x = 276 if i % 2 == 0 else 723
    row_title = 83 if i < 2 else 580
    row_xlabel = 452 if i < 2 else 948
    ylab_x = 49 if i % 2 == 0 else 495
    ylab_y = 255 if i < 2 else 750
    fig.text(col_x / W, 1 - row_title / H, titles[i], fontsize=12.3, ha='center', va='center', color='#111111')
    fig.text(col_x / W, 1 - row_xlabel / H, xlabels[i], fontsize=9.5, ha='center', va='center', color='#222222')
    fig.text(ylab_x / W, 1 - ylab_y / H, 'Sex Ratio (% females)', fontsize=9.5, rotation=90,
             ha='center', va='center', color='#222222')

fig.savefig('out.png', dpi=100)
